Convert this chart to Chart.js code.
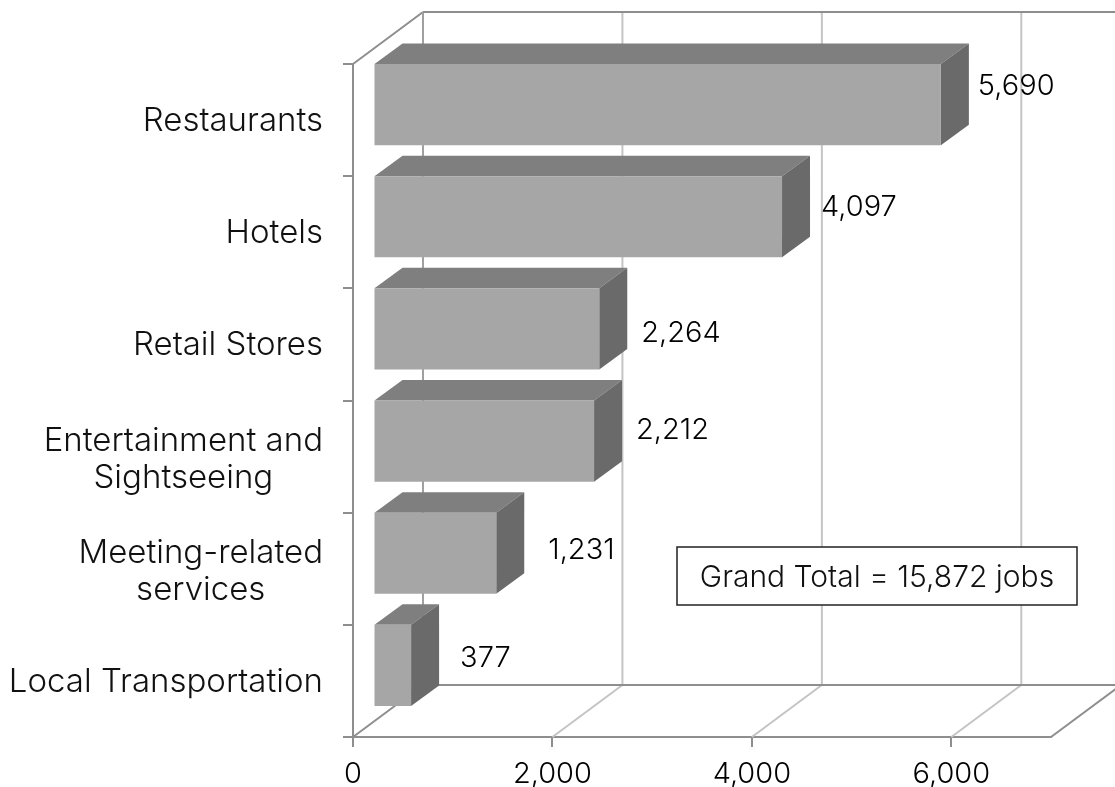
<!DOCTYPE html>
<html><head><meta charset="utf-8">
<style>html,body{margin:0;padding:0;background:#fff}canvas{display:block}</style>
<script src="https://cdn.jsdelivr.net/npm/chart.js@4/dist/chart.umd.min.js"></script>
</head><body>
<canvas id="c" width="1115" height="787"></canvas>
<script>
const categories = ["Restaurants","Hotels","Retail Stores",["Entertainment and","Sightseeing"],["Meeting-related","services"],"Local Transportation"];
const jobs = [5690,4097,2264,2212,1231,377];
const xTickValues = [0,2000,4000,6000];
const axisMax = 7000;
const noteText = "Grand Total = 15,872 jobs";

const CAT_FONT = '300 33px Inter, Lato, sans-serif';
const NUM_FONT = '300 29px Inter, Lato, sans-serif';
const NOTE_FONT = '300 30px Inter, Lato, sans-serif';
const wall = {dx:70, dy:-52};
const barShift = {dx:20.5, dy:-15.5};
const barDepth = {dx:28, dy:-20.5};
const labelNudge = [[37,-18],[39,-9],[42,4],[42,-11],[52,-3],[49,-7]];

const threeD = {
  id:'threeD',
  beforeDatasetsDraw(chart){
    const {ctx,scales:{x,y}} = chart, L=y.right, T=y.top, B=y.bottom, R=x.getPixelForValue(axisMax);
    ctx.save();
    const line=(a,b,c,d,col)=>{ctx.strokeStyle=col;ctx.lineWidth=2;ctx.beginPath();ctx.moveTo(a,b);ctx.lineTo(c,d);ctx.stroke();};
    xTickValues.slice(1).forEach(v=>{
      const p=x.getPixelForValue(v);
      line(p,B,p+wall.dx,B+wall.dy,'#c4c4c4');
      line(p+wall.dx,T+wall.dy,p+wall.dx,B+wall.dy,'#c4c4c4');
    });
    const dark='#8e8e8e';
    line(L,T,L+wall.dx,T+wall.dy,dark);
    line(L,B,L+wall.dx,B+wall.dy,dark);
    line(L+wall.dx,T+wall.dy,L+wall.dx,B+wall.dy,'#a0a0a0');
    line(L+wall.dx,T+wall.dy,R+wall.dx,T+wall.dy,dark);
    line(L+wall.dx,B+wall.dy,R+wall.dx,B+wall.dy,dark);
    line(R,B,R+wall.dx,B+wall.dy,dark);
    ctx.restore();
  },
  beforeDatasetDraw(chart,args){
    const {ctx}=chart;
    ctx.save();
    ctx.translate(barShift.dx,barShift.dy);
    args.meta.data.forEach(b=>{
      const h=b.height/2, x0=b.base, x1=b.x, t=b.y-h, bt=b.y+h, d=barDepth;
      ctx.fillStyle='#7f7f7f';
      ctx.beginPath();ctx.moveTo(x0,t);ctx.lineTo(x0+d.dx,t+d.dy);ctx.lineTo(x1+d.dx,t+d.dy);ctx.lineTo(x1,t);ctx.closePath();ctx.fill();
      ctx.fillStyle='#6a6a6a';
      ctx.beginPath();ctx.moveTo(x1,t);ctx.lineTo(x1+d.dx,t+d.dy);ctx.lineTo(x1+d.dx,bt+d.dy);ctx.lineTo(x1,bt);ctx.closePath();ctx.fill();
    });
  },
  afterDatasetDraw(chart,args){
    const {ctx}=chart;
    ctx.restore();
    ctx.save();
    ctx.font=NUM_FONT;ctx.fillStyle='#000';ctx.textAlign='left';ctx.textBaseline='middle';
    args.meta.data.forEach((b,i)=>{
      ctx.fillText(jobs[i].toLocaleString('en-US'),b.x+barShift.dx+labelNudge[i][0],b.y+barShift.dy+labelNudge[i][1]);
    });
    ctx.restore();
  },
  afterDraw(chart){
    const {ctx,scales:{y}}=chart;
    ctx.save();
    ctx.font=CAT_FONT;ctx.fillStyle='#111';ctx.textBaseline='middle';
    const right=323,lh=37;
    categories.forEach((c,i)=>{
      const lines=Array.isArray(c)?c:[c];
      const w=Math.max(...lines.map(s=>ctx.measureText(s).width));
      const cy=y.getPixelForValue(i);
      ctx.textAlign='center';
      lines.forEach((s,k)=>ctx.fillText(s,right-w/2,cy+1+(k-(lines.length-1)/2)*lh+(lines.length>1?2:0)));
    });
    ctx.fillStyle='#fff';ctx.strokeStyle='#222';ctx.lineWidth=1.5;
    ctx.fillRect(677,547,400,58);ctx.strokeRect(677,547,400,58);
    ctx.fillStyle='#111';ctx.textAlign='center';
    ctx.font=NOTE_FONT;
    ctx.fillText(noteText,877,578);
    ctx.restore();
  }
};

new Chart(document.getElementById('c'),{
  type:'bar',
  data:{labels:categories,datasets:[{data:jobs,backgroundColor:'#a6a6a6',borderWidth:0,barPercentage:0.723,categoryPercentage:1}]},
  plugins:[threeD],
  options:{
    indexAxis:'y',responsive:false,animation:false,
    layout:{padding:{top:64,right:64,bottom:0,left:0}},
    plugins:{legend:{display:false},tooltip:{enabled:false},title:{display:false}},
    scales:{
      x:{type:'linear',min:0,max:axisMax,
        afterBuildTicks(s){s.ticks=xTickValues.map(v=>({value:v}));},
        afterFit(s){s.height=50;},
        grid:{drawOnChartArea:false,drawTicks:true,tickLength:10,color:'#8e8e8e',lineWidth:2},
        border:{display:true,color:'#8e8e8e',width:2},
        ticks:{color:'#000',font:{family:'Inter, Lato, sans-serif',size:29,weight:'300'},padding:10,maxRotation:0,autoSkip:false,callback:v=>v.toLocaleString('en-US')}
      },
      y:{type:'category',
        afterFit(s){s.width=353;},
        grid:{drawOnChartArea:false,drawTicks:true,tickLength:10,offset:true,color:'#8e8e8e',lineWidth:2},
        border:{display:true,color:'#8e8e8e',width:2},
        ticks:{display:false}
      }
    }
  }
});
</script>
</body></html>
